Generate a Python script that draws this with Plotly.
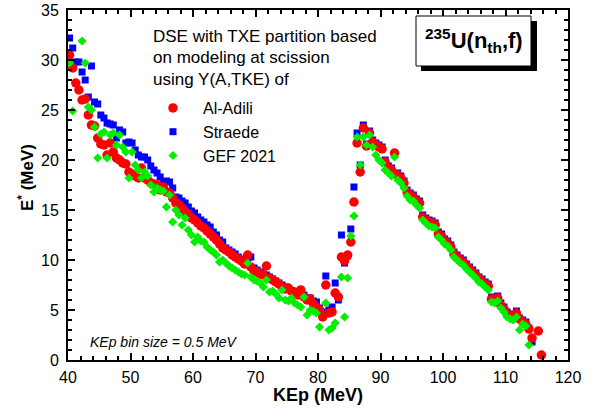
import plotly.graph_objects as go

# ---------------- data ----------------
ala_x = [40.25, 40.75, 41.25, 41.75, 42.25, 42.75, 43.25, 43.75, 44.25, 44.75,
         45.25, 45.75, 46.25, 46.75, 47.25, 47.75, 48.25, 48.75, 49.25, 49.75,
         50.25, 50.75, 51.25, 51.75, 52.25, 52.75, 53.25, 53.75, 54.25, 54.75,
         55.25, 55.75, 56.25, 56.75, 57.25, 57.75, 58.25, 58.75, 59.25, 59.75,
         60.25, 60.75, 61.25, 61.75, 62.25, 62.75, 63.25, 63.75, 64.25, 64.75,
         65.25, 65.75, 66.25, 66.75, 67.25, 67.75, 68.25, 68.75, 69.25, 69.75,
         70.25, 70.75, 71.25, 71.75, 72.25, 72.75, 73.25, 73.75, 74.25, 74.75,
         75.25, 75.75, 76.25, 76.75, 77.25, 77.75, 78.25, 78.75, 79.25, 79.75,
         80.25, 80.75, 81.25, 81.75, 82.25, 82.75, 83.25, 83.75, 84.25, 84.75,
         85.25, 85.75, 86.25, 86.75, 87.25, 87.75, 88.25, 88.75, 89.25, 89.75,
         90.25, 90.75, 91.25, 91.75, 92.25, 92.75, 93.25, 93.75, 94.25, 94.75,
         95.25, 95.75, 96.25, 96.75, 97.25, 97.75, 98.25, 98.75, 99.25, 99.75,
         100.25, 100.75, 101.25, 101.75, 102.25, 102.75, 103.25, 103.75, 104.25, 104.75,
         105.25, 105.75, 106.25, 106.75, 107.25, 107.75, 108.25, 108.75, 109.25, 109.75,
         110.25, 110.75, 111.25, 111.75, 112.25, 112.75, 113.25, 113.75, 114.25, 115.25,
         115.75]
ala_y = [30.5, 29.2, 27.7, 27.0, 26.0, 26.1, 24.5, 23.5, 23.4, 22.2,
         21.6, 21.5, 20.5, 21.7, 20.8, 20.2, 20.0, 19.7, 19.6, 18.8,
         18.6, 18.4, 18.2, 19.2, 18.2, 18.0, 17.7, 17.6, 17.5, 17.0,
         17.3, 16.8, 16.7, 16.2, 15.7, 15.5, 15.2, 14.8, 14.6, 14.2,
         14.0, 13.7, 13.4, 13.2, 12.9, 12.6, 12.3, 12.0, 11.6, 11.2,
         11.0, 10.8, 10.5, 10.3, 10.1, 9.9, 9.6, 10.5, 9.3, 8.9,
         8.8, 8.6, 8.5, 9.4, 8.2, 8.0, 7.8, 7.6, 7.3, 7.1,
         7.2, 6.9, 6.8, 6.5, 7.0, 6.3, 6.0, 6.1, 5.6, 5.3,
         5.0, 4.3, 7.5, 4.7, 4.8, 6.7, 6.3, 10.3, 9.9, 10.5,
         11.8, 15.8, 21.7, 18.8, 23.2, 21.4, 22.7, 21.8, 21.5, 21.3,
         21.1, 19.8, 19.2, 19.0, 20.7, 18.5, 18.2, 17.7, 16.8, 16.5,
         16.3, 15.9, 15.7, 14.3, 14.0, 13.8, 13.7, 13.5, 12.6, 12.4,
         11.9, 11.7, 11.3, 10.6, 10.3, 10.0, 9.8, 9.4, 9.1, 8.8,
         8.5, 8.1, 7.9, 7.6, 7.4, 6.1, 6.0, 6.2, 5.5, 5.1,
         4.6, 4.4, 4.3, 4.7, 4.1, 3.8, 3.6, 3.1, 2.2, 2.9,
         0.5]

str_x = [40.25, 40.75, 41.25, 41.75, 42.25, 42.75, 43.25, 43.75, 44.25, 44.75,
         45.25, 45.75, 46.25, 46.75, 47.25, 47.75, 48.25, 48.75, 49.25, 49.75,
         50.25, 50.75, 51.25, 51.75, 52.25, 52.75, 53.25, 53.75, 54.25, 54.75,
         55.25, 55.75, 56.25, 56.75, 57.25, 57.75, 58.25, 58.75, 59.25, 59.75,
         60.25, 60.75, 61.25, 61.75, 62.25, 62.75, 63.25, 63.75, 64.25, 64.75,
         65.25, 65.75, 66.25, 66.75, 67.25, 67.75, 68.25, 68.75, 69.25, 69.75,
         70.25, 70.75, 71.25, 71.75, 72.25, 72.75, 73.25, 73.75, 74.25, 74.75,
         75.25, 75.75, 76.25, 76.75, 77.25, 77.75, 78.25, 78.75, 79.25, 79.75,
         80.25, 80.75, 81.25, 81.75, 82.25, 82.75, 83.25, 83.75, 84.25, 84.75,
         85.25, 85.75, 86.25, 86.75, 87.25, 87.75, 88.25, 88.75, 89.25, 89.75,
         90.25, 90.75, 91.25, 91.75, 92.25, 92.75, 93.25, 93.75, 94.25, 94.75,
         95.25, 95.75, 96.25, 96.75, 97.25, 97.75, 98.25, 98.75, 99.25, 99.75,
         100.25, 100.75, 101.25, 101.75, 102.25, 102.75, 103.25, 103.75, 104.25, 104.75,
         105.25, 105.75, 106.25, 106.75, 107.25, 107.75, 108.25, 108.75, 109.25, 109.75,
         110.25, 110.75, 111.25, 111.75, 112.25, 112.75, 113.25, 113.75, 114.25]
str_y = [32.2, 31.2, 29.8, 29.8, 28.8, 28.0, 26.3, 29.4, 25.8, 25.6,
         24.5, 24.2, 23.7, 23.6, 23.5, 22.2, 23.0, 22.8, 21.7, 21.8,
         21.7, 21.0, 20.5, 20.3, 20.3, 20.0, 19.4, 19.0, 18.7, 18.3,
         17.8, 17.9, 17.8, 17.2, 16.3, 16.2, 15.9, 15.7, 15.3, 14.9,
         14.7, 14.3, 14.0, 13.8, 13.5, 13.3, 12.8, 12.5, 12.0, 11.8,
         11.2, 11.0, 10.8, 10.6, 10.3, 10.1, 9.9, 10.0, 10.3, 9.2,
         9.0, 8.8, 8.6, 8.5, 8.3, 8.1, 7.9, 7.7, 7.5, 7.3,
         7.1, 6.9, 6.8, 6.6, 7.0, 6.5, 6.2, 6.2, 5.9, 5.8,
         5.2, 4.8, 8.4, 5.0, 5.3, 7.7, 6.0, 12.5, 9.7, 10.4,
         13.1, 17.3, 22.7, 19.5, 23.5, 21.6, 22.9, 22.0, 21.7, 21.5,
         21.3, 20.0, 19.4, 19.2, 20.6, 18.7, 18.4, 17.9, 17.0, 16.7,
         16.5, 16.1, 15.9, 14.5, 14.2, 14.0, 13.9, 13.7, 12.8, 12.6,
         12.1, 11.9, 11.5, 10.8, 10.5, 10.2, 10.0, 9.6, 9.3, 9.0,
         8.7, 8.3, 8.1, 7.8, 7.6, 6.3, 6.2, 6.4, 5.7, 5.3,
         4.8, 4.6, 4.5, 4.9, 4.2, 4.0, 3.8, 3.2, 1.8]

gef_x = [40.25, 40.75, 42.25, 42.75, 43.25, 43.75, 44.25, 44.75,
         45.25, 45.75, 46.25, 46.75, 47.25, 47.75, 48.25, 48.75, 49.25, 49.75,
         50.25, 50.75, 51.25, 51.75, 52.25, 52.75, 53.25, 53.75, 54.25, 54.75,
         55.25, 55.75, 56.25, 56.75, 57.25, 57.75, 58.25, 58.75, 59.25, 59.75,
         60.25, 60.75, 61.25, 61.75, 62.25, 62.75, 63.25, 63.75, 64.25, 64.75,
         65.25, 65.75, 66.25, 66.75, 67.25, 67.75, 68.25, 68.75, 69.25, 69.75,
         70.25, 70.75, 71.25, 71.75, 72.25, 72.75, 73.25, 73.75, 74.25, 74.75,
         75.25, 75.75, 76.25, 76.75, 77.25, 77.75, 78.25, 78.75, 79.25, 79.75,
         80.25, 81.25, 81.75, 82.25, 82.75, 83.75, 84.25, 84.75,
         85.25, 85.75, 86.25, 86.75, 87.25, 87.75, 88.25, 88.75, 89.25, 89.75,
         90.25, 90.75, 91.25, 91.75, 92.25, 92.75, 93.25, 93.75, 94.25, 94.75,
         95.25, 95.75, 96.25, 96.75, 97.25, 97.75, 98.25, 98.75, 99.25, 99.75,
         100.25, 100.75, 101.25, 101.75, 102.25, 102.75, 103.25, 103.75, 104.25, 104.75,
         105.25, 105.75, 106.25, 106.75, 107.25, 107.75, 108.25, 108.75, 109.25, 109.75,
         110.25, 110.75, 111.25, 111.75, 112.25, 112.75, 113.25, 113.75]
gef_y = [29.7, 24.9, 31.9, 29.7, 25.3, 25.0, 23.3, 20.2,
         22.6, 22.8, 20.2, 22.5, 22.7, 21.5, 22.5, 21.3, 20.8, 18.2,
         20.8, 19.5, 19.0, 18.2, 18.8, 18.4, 17.5, 16.8, 17.2, 17.0,
         16.9, 15.3, 16.5, 13.8, 15.0, 14.5, 13.5, 14.2, 13.0, 12.5,
         11.8, 12.3, 11.9, 11.8, 11.3, 11.0, 10.8, 10.5, 9.8, 10.0,
         9.7, 9.4, 9.2, 9.0, 8.8, 8.6, 8.5, 9.7, 8.3, 8.0,
         7.9, 7.7, 7.3, 8.0, 6.8, 6.9, 6.6, 6.2, 7.0, 6.0,
         5.9, 6.2, 5.7, 5.5, 5.3, 6.3, 4.5, 5.0, 4.9, 4.7,
         3.3, 5.7, 3.0, 3.2, 3.7, 8.3, 4.3, 8.2,
         12.4, 14.4, 22.3, 19.5, 22.3, 21.5, 22.5, 21.3, 20.5, 20.0,
         19.7, 19.0, 18.7, 18.4, 20.3, 18.0, 17.7, 17.2, 16.4, 16.0,
         15.9, 15.5, 15.2, 14.0, 13.7, 13.4, 13.3, 13.2, 12.3, 12.0,
         11.6, 11.4, 11.0, 10.3, 10.0, 9.7, 9.5, 9.1, 8.8, 8.5,
         8.2, 7.8, 7.6, 7.3, 7.0, 5.8, 5.7, 5.9, 5.2, 4.8,
         4.3, 4.1, 4.0, 4.3, 3.0, 3.6, 3.4, 1.5]

series_names = ["Al-Adili", "Straede", "GEF 2021"]
title_lines = ["DSE with TXE partition based", "on modeling at scission", "using Y(A,TKE) of"]
x_ticks = [40, 50, 60, 70, 80, 90, 100, 110, 120]
y_ticks = [0, 5, 10, 15, 20, 25, 30, 35]

FONT = "Arial, Liberation Sans, sans-serif"

fig = go.Figure()
# draw order: Straede (bottom), Al-Adili, GEF (top)
fig.add_trace(go.Scatter(x=str_x, y=str_y, mode="markers", name=series_names[1], legendrank=2,
                         legendgroup="b",
                         marker=dict(symbol="square", size=7, color="#0000FF", line=dict(width=0))))
fig.add_trace(go.Scatter(x=ala_x, y=ala_y, mode="markers", name=series_names[0], legendrank=1,
                         legendgroup="a",
                         marker=dict(symbol="circle", size=9.5, color="#FF0000", line=dict(width=0))))
fig.add_trace(go.Scatter(x=gef_x, y=gef_y, mode="markers", name=series_names[2], legendrank=3,
                         legendgroup="c",
                         marker=dict(symbol="diamond", size=7, color="#00EE00", line=dict(width=0))))

axis_common = dict(showline=True, linecolor="black", linewidth=2, mirror="ticks",
                   ticks="inside", ticklen=7, tickwidth=1.5, tickcolor="black",
                   showgrid=False, zeroline=False, automargin=False,
                   tickfont=dict(family=FONT, size=16, color="black"))
fig.update_xaxes(range=[40, 120], tickvals=x_ticks, ticklabelstandoff=2,
                 minor=dict(dtick=2, ticks="inside", ticklen=4, tickwidth=1.5, tickcolor="black"),
                 **axis_common)
fig.update_yaxes(range=[0, 35], tickvals=y_ticks, ticklabelstandoff=4,
                 minor=dict(dtick=1, ticks="inside", ticklen=4, tickwidth=1.5, tickcolor="black"),
                 **axis_common)

L, R, T, B = 68, 35, 10, 49
W, H = 603, 409
pw, ph = W - L - R, H - T - B

def px(xp):
    return (xp - L) / pw

def py(yp):
    return (H - B - yp) / ph

annotations = []
for i, line in enumerate(title_lines):
    annotations.append(dict(x=px(151), y=py(36 + 22 * i), xref="paper", yref="paper",
                            text=line, showarrow=False, xanchor="left", yanchor="middle",
                            font=dict(family=FONT, size=17, color="black")))
annotations.append(dict(x=px(473.5), y=py(41), xref="paper", yref="paper",
                        text="<b><sup>235</sup>U(n<sub>th</sub>,f)</b>", showarrow=False,
                        xanchor="center", yanchor="middle",
                        font=dict(family=FONT, size=22, color="black")))
annotations.append(dict(x=px(88), y=py(342), xref="paper", yref="paper",
                        text="<i>KEp bin size = 0.5 MeV</i>", showarrow=False,
                        xanchor="left", yanchor="middle",
                        font=dict(family=FONT, size=14, color="black")))
annotations.append(dict(x=px(318), y=py(395), xref="paper", yref="paper",
                        text="<b>KEp (MeV)</b>", showarrow=False,
                        xanchor="center", yanchor="middle",
                        font=dict(family=FONT, size=18, color="black")))
annotations.append(dict(x=px(26), y=py(178), xref="paper", yref="paper",
                        text="<b>E<sup>*</sup> (MeV)</b>", showarrow=False, textangle=-90,
                        xanchor="center", yanchor="middle",
                        font=dict(family=FONT, size=17, color="black")))

shapes = [
    dict(type="rect", xref="paper", yref="paper", x0=px(421), x1=px(537), y0=py(71), y1=py(21),
         fillcolor="black", line=dict(width=0)),
    dict(type="rect", xref="paper", yref="paper", x0=px(416), x1=px(531), y0=py(66), y1=py(16),
         fillcolor="white", line=dict(color="black", width=1)),
]

fig.update_layout(
    width=W, height=H,
    margin=dict(l=L, r=R, t=T, b=B, autoexpand=False),
    paper_bgcolor="white", plot_bgcolor="white",
    showlegend=True,
    legend=dict(x=px(143), y=py(91), xanchor="left", yanchor="top",
                bgcolor="rgba(0,0,0,0)", borderwidth=0, itemwidth=50,
                tracegroupgap=0, traceorder="grouped",
                font=dict(family=FONT, size=16, color="black")),
    annotations=annotations,
    shapes=shapes,
)

fig.write_html("out.html")
